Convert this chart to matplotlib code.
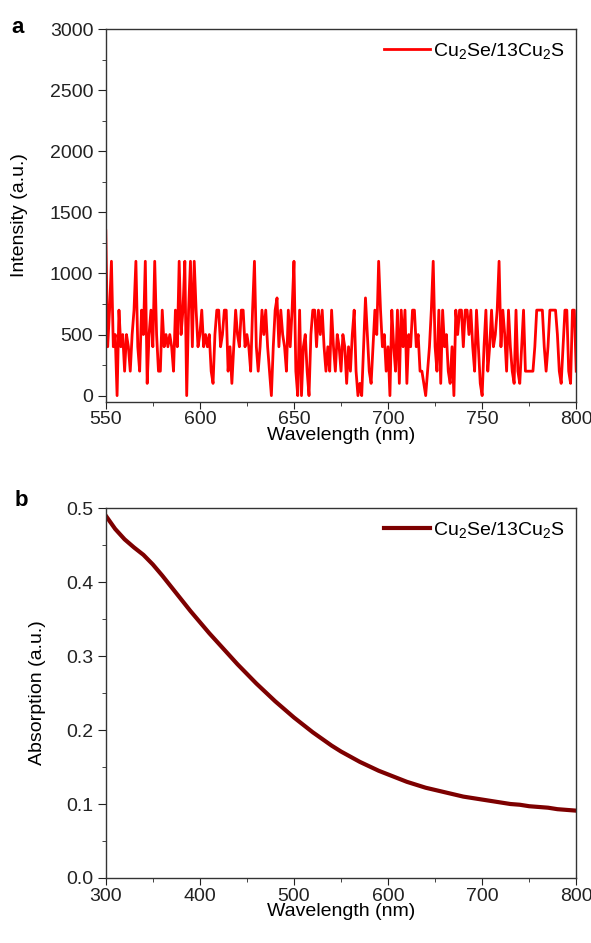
import numpy as np
import matplotlib
matplotlib.use("Agg")
import matplotlib.pyplot as plt
from matplotlib.ticker import MultipleLocator

plt.rcParams['font.family'] = ['Liberation Sans', 'DejaVu Sans']
plt.rcParams['mathtext.default'] = 'regular'

# panel a: emission intensity, 1 nm steps from 550 nm
pl_start = 550
pl_intensity = [
    1350, 400, 700, 1100, 400, 500, 0, 700, 400, 500,
    200, 500, 400, 200, 500, 700, 1100, 400, 200, 700,
    500, 1100, 100, 500, 700, 400, 1100, 500, 200, 200,
    700, 400, 500, 400, 500, 400, 200, 700, 400, 1100,
    500, 700, 1100, 0, 700, 1100, 400, 1100, 700, 400,
    500, 700, 400, 500, 400, 500, 200, 100, 500, 700,
    700, 400, 500, 700, 700, 200, 400, 100, 400, 700,
    500, 400, 700, 700, 400, 500, 400, 200, 700, 1100,
    400, 200, 400, 700, 500, 700, 400, 200, 0, 400,
    700, 800, 400, 700, 500, 400, 200, 700, 400, 700,
    1100, 200, 0, 700, 0, 400, 500, 200, 0, 500,
    700, 700, 400, 700, 500, 700, 400, 200, 400, 200,
    700, 400, 200, 500, 400, 200, 500, 400, 100, 400,
    200, 500, 700, 200, 0, 100, 0, 400, 800, 500,
    200, 100, 400, 700, 500, 1100, 700, 400, 500, 200,
    400, 0, 700, 400, 200, 700, 100, 700, 400, 700,
    100, 500, 400, 700, 700, 400, 500, 200, 200, 100,
    0, 200, 400, 700, 1100, 400, 200, 700, 100, 700,
    400, 500, 200, 100, 400, 0, 700, 500, 700, 700,
    400, 700, 700, 500, 700, 400, 200, 700, 400, 100,
    0, 400, 700, 200, 400, 700, 400, 500, 700, 1100,
    400, 700, 500, 200, 700, 400, 200, 100, 700, 200,
    100, 400, 700, 200, 200, 200, 200, 200, 400, 700,
    700, 700, 700, 400, 200, 400, 700, 700, 700, 700,
    500, 200, 100, 400, 700, 700, 200, 100, 700, 700,
    200,
]

# panel b: absorption, 10 nm steps
abs_wavelength = list(range(300, 801, 10))
absorption = [
    0.490, 0.472, 0.458, 0.447, 0.437, 0.424, 0.409, 0.393, 0.377, 0.361,
    0.346, 0.331, 0.317, 0.303, 0.289, 0.276, 0.263, 0.251, 0.239, 0.228,
    0.217, 0.207, 0.197, 0.188, 0.179, 0.171, 0.164, 0.157, 0.151, 0.145,
    0.140, 0.135, 0.130, 0.126, 0.122, 0.119, 0.116, 0.113, 0.110, 0.108,
    0.106, 0.104, 0.102, 0.100, 0.099, 0.097, 0.096, 0.095, 0.093, 0.092,
    0.091,
]

label = "Cu$_2$Se/13Cu$_2$S"

pl_wavelength = np.arange(pl_start, pl_start + len(pl_intensity))

fig = plt.figure(figsize=(5.91, 9.43), dpi=100)
ax1 = fig.add_axes([0.179, 0.574, 0.796, 0.395])
ax2 = fig.add_axes([0.179, 0.069, 0.796, 0.392])

ax1.plot(pl_wavelength, pl_intensity, color='#ff0000', lw=2.0, label=label)
ax1.set_xlim(550, 800)
ax1.set_ylim(-50, 3000)
ax1.xaxis.set_major_locator(MultipleLocator(50))
ax1.xaxis.set_minor_locator(MultipleLocator(25))
ax1.yaxis.set_major_locator(MultipleLocator(500))
ax1.yaxis.set_minor_locator(MultipleLocator(250))
ax1.set_xlabel("Wavelength (nm)", fontsize=14)
ax1.set_ylabel("Intensity (a.u.)", fontsize=14)
ax1.yaxis.set_label_coords(-0.166, 0.5)
ax1.xaxis.set_label_coords(0.5, -0.068)

ax2.plot(abs_wavelength, absorption, color='#7d0000', lw=3.0, label=label)
ax2.set_xlim(300, 800)
ax2.set_ylim(0, 0.5)
ax2.xaxis.set_major_locator(MultipleLocator(100))
ax2.xaxis.set_minor_locator(MultipleLocator(50))
ax2.yaxis.set_major_locator(MultipleLocator(0.1))
ax2.yaxis.set_minor_locator(MultipleLocator(0.05))
ax2.yaxis.set_major_formatter(plt.FormatStrFormatter('%.1f'))
ax2.set_xlabel("Wavelength (nm)", fontsize=14)
ax2.set_ylabel("Absorption (a.u.)", fontsize=14)
ax2.yaxis.set_label_coords(-0.128, 0.5)
ax2.xaxis.set_label_coords(0.5, -0.068)

for ax in (ax1, ax2):
    for s in ax.spines.values():
        s.set_color('#333333')
        s.set_linewidth(1.0)
    ax.tick_params(which='both', direction='out', top=False, right=False,
                   labelsize=14, colors='#222222')
    ax.tick_params(axis='x', which='major', length=5, pad=2)
    ax.tick_params(axis='y', which='major', length=6, pad=3)
    ax.tick_params(which='minor', length=3)
    ax.legend(loc='upper right', frameon=False, fontsize=14,
              handlelength=2.4, handletextpad=0.15, borderaxespad=0.2)

fig.text(0.02, 0.971, "a", fontsize=16, fontweight='bold', va='center')
fig.text(0.025, 0.469, "b", fontsize=16, fontweight='bold', va='center')

fig.savefig("out.png", dpi=100)
